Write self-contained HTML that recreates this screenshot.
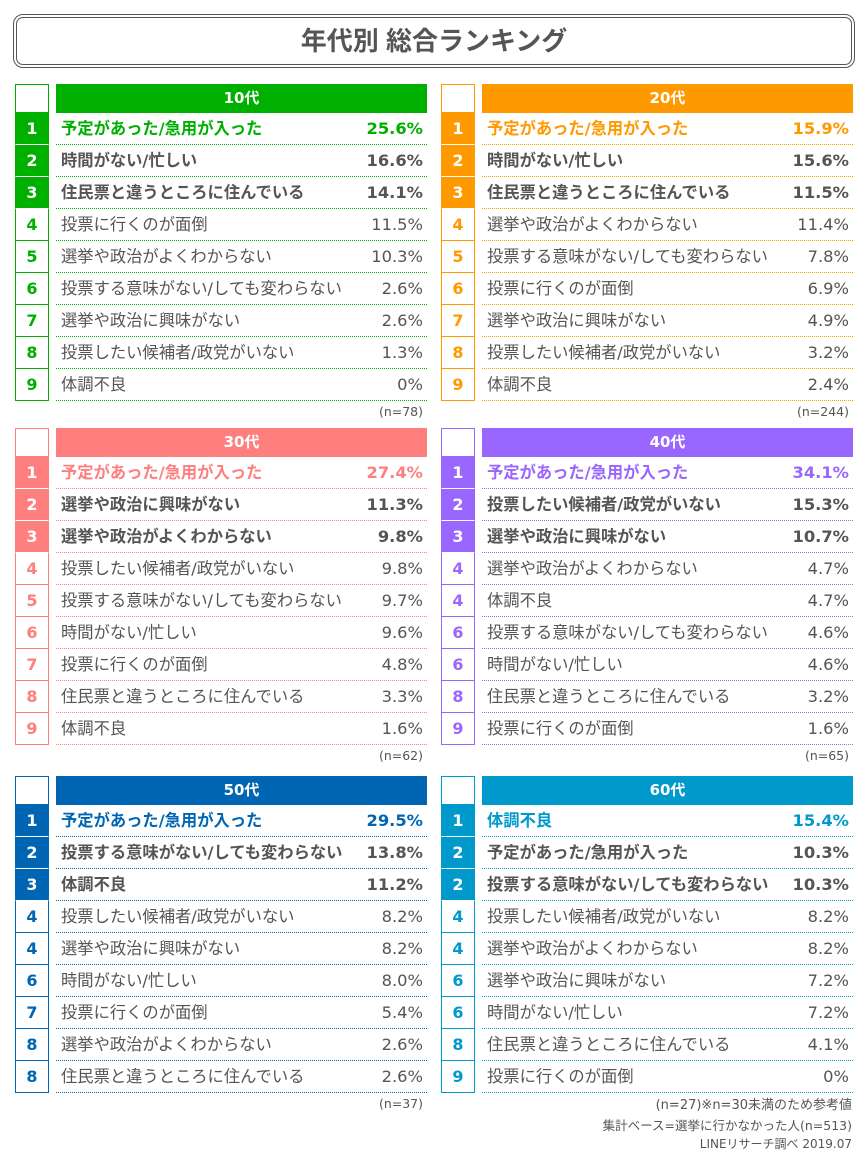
<!DOCTYPE html>
<html><head><meta charset="utf-8"><style>
body{margin:0;width:868px;height:1155px;background:#fff;position:relative;font-family:"DejaVu Sans","Noto Sans CJK JP",sans-serif;color:#555;overflow:hidden}
.title{position:absolute;left:13px;top:14px;width:834px;height:46px;border:4px double #555;border-radius:10px;text-align:center;line-height:46px;font-size:26px;font-weight:bold;color:#555;font-family:"Liberation Sans","Noto Sans CJK JP",sans-serif}
.p{position:absolute;width:412px}
.r{display:flex;height:32px}
.h{height:29px}
.n{width:34px;box-sizing:border-box;border:1px solid var(--c);border-top:none;text-align:center;font-weight:bold;font-size:16px;line-height:31px;color:var(--c);background:#fff}
.h .n{border-top:1px solid var(--c)}
.f .n{background:var(--c);color:#fff;border-bottom:1px solid #fff}
.t{flex:1;margin-left:7px;box-sizing:border-box;border-bottom:1px dotted var(--c);display:flex;justify-content:space-between;padding:0 4px 0 5px;font-size:16.3px;line-height:31px;white-space:nowrap}
.f .t{font-weight:bold}
.f1 .t{color:var(--c)}
.hb{flex:1;margin-left:7px;background:var(--c);color:#fff;font-weight:bold;text-align:center;font-size:15px;line-height:29px}
.nn{text-align:right;font-size:12.5px;padding-right:4px;height:22px;line-height:22px}
.ft{position:absolute;right:16px;font-size:12.5px;text-align:right;color:#555}
</style></head><body>
<div class="title">年代別 総合ランキング</div>

<div class="p" style="left:15px;top:84px;--c:#00b000">
<div class="r h"><div class="n"></div><div class="hb">10代</div></div>
<div class="r f f1"><div class="n">1</div><div class="t"><span>予定があった/急用が入った</span><span>25.6%</span></div></div>
<div class="r f"><div class="n">2</div><div class="t"><span>時間がない/忙しい</span><span>16.6%</span></div></div>
<div class="r f"><div class="n">3</div><div class="t"><span>住民票と違うところに住んでいる</span><span>14.1%</span></div></div>
<div class="r"><div class="n">4</div><div class="t"><span>投票に行くのが面倒</span><span>11.5%</span></div></div>
<div class="r"><div class="n">5</div><div class="t"><span>選挙や政治がよくわからない</span><span>10.3%</span></div></div>
<div class="r"><div class="n">6</div><div class="t"><span>投票する意味がない/しても変わらない</span><span>2.6%</span></div></div>
<div class="r"><div class="n">7</div><div class="t"><span>選挙や政治に興味がない</span><span>2.6%</span></div></div>
<div class="r"><div class="n">8</div><div class="t"><span>投票したい候補者/政党がいない</span><span>1.3%</span></div></div>
<div class="r"><div class="n">9</div><div class="t"><span>体調不良</span><span>0%</span></div></div>
<div class="nn">(n=78)</div>
</div>

<div class="p" style="left:441px;top:84px;--c:#ff9900">
<div class="r h"><div class="n"></div><div class="hb">20代</div></div>
<div class="r f f1"><div class="n">1</div><div class="t"><span>予定があった/急用が入った</span><span>15.9%</span></div></div>
<div class="r f"><div class="n">2</div><div class="t"><span>時間がない/忙しい</span><span>15.6%</span></div></div>
<div class="r f"><div class="n">3</div><div class="t"><span>住民票と違うところに住んでいる</span><span>11.5%</span></div></div>
<div class="r"><div class="n">4</div><div class="t"><span>選挙や政治がよくわからない</span><span>11.4%</span></div></div>
<div class="r"><div class="n">5</div><div class="t"><span>投票する意味がない/しても変わらない</span><span>7.8%</span></div></div>
<div class="r"><div class="n">6</div><div class="t"><span>投票に行くのが面倒</span><span>6.9%</span></div></div>
<div class="r"><div class="n">7</div><div class="t"><span>選挙や政治に興味がない</span><span>4.9%</span></div></div>
<div class="r"><div class="n">8</div><div class="t"><span>投票したい候補者/政党がいない</span><span>3.2%</span></div></div>
<div class="r"><div class="n">9</div><div class="t"><span>体調不良</span><span>2.4%</span></div></div>
<div class="nn">(n=244)</div>
</div>

<div class="p" style="left:15px;top:428px;--c:#ff7f7f">
<div class="r h"><div class="n"></div><div class="hb">30代</div></div>
<div class="r f f1"><div class="n">1</div><div class="t"><span>予定があった/急用が入った</span><span>27.4%</span></div></div>
<div class="r f"><div class="n">2</div><div class="t"><span>選挙や政治に興味がない</span><span>11.3%</span></div></div>
<div class="r f"><div class="n">3</div><div class="t"><span>選挙や政治がよくわからない</span><span>9.8%</span></div></div>
<div class="r"><div class="n">4</div><div class="t"><span>投票したい候補者/政党がいない</span><span>9.8%</span></div></div>
<div class="r"><div class="n">5</div><div class="t"><span>投票する意味がない/しても変わらない</span><span>9.7%</span></div></div>
<div class="r"><div class="n">6</div><div class="t"><span>時間がない/忙しい</span><span>9.6%</span></div></div>
<div class="r"><div class="n">7</div><div class="t"><span>投票に行くのが面倒</span><span>4.8%</span></div></div>
<div class="r"><div class="n">8</div><div class="t"><span>住民票と違うところに住んでいる</span><span>3.3%</span></div></div>
<div class="r"><div class="n">9</div><div class="t"><span>体調不良</span><span>1.6%</span></div></div>
<div class="nn">(n=62)</div>
</div>

<div class="p" style="left:441px;top:428px;--c:#9966ff">
<div class="r h"><div class="n"></div><div class="hb">40代</div></div>
<div class="r f f1"><div class="n">1</div><div class="t"><span>予定があった/急用が入った</span><span>34.1%</span></div></div>
<div class="r f"><div class="n">2</div><div class="t"><span>投票したい候補者/政党がいない</span><span>15.3%</span></div></div>
<div class="r f"><div class="n">3</div><div class="t"><span>選挙や政治に興味がない</span><span>10.7%</span></div></div>
<div class="r"><div class="n">4</div><div class="t"><span>選挙や政治がよくわからない</span><span>4.7%</span></div></div>
<div class="r"><div class="n">4</div><div class="t"><span>体調不良</span><span>4.7%</span></div></div>
<div class="r"><div class="n">6</div><div class="t"><span>投票する意味がない/しても変わらない</span><span>4.6%</span></div></div>
<div class="r"><div class="n">6</div><div class="t"><span>時間がない/忙しい</span><span>4.6%</span></div></div>
<div class="r"><div class="n">8</div><div class="t"><span>住民票と違うところに住んでいる</span><span>3.2%</span></div></div>
<div class="r"><div class="n">9</div><div class="t"><span>投票に行くのが面倒</span><span>1.6%</span></div></div>
<div class="nn">(n=65)</div>
</div>

<div class="p" style="left:15px;top:776px;--c:#0066b3">
<div class="r h"><div class="n"></div><div class="hb">50代</div></div>
<div class="r f f1"><div class="n">1</div><div class="t"><span>予定があった/急用が入った</span><span>29.5%</span></div></div>
<div class="r f"><div class="n">2</div><div class="t"><span>投票する意味がない/しても変わらない</span><span>13.8%</span></div></div>
<div class="r f"><div class="n">3</div><div class="t"><span>体調不良</span><span>11.2%</span></div></div>
<div class="r"><div class="n">4</div><div class="t"><span>投票したい候補者/政党がいない</span><span>8.2%</span></div></div>
<div class="r"><div class="n">4</div><div class="t"><span>選挙や政治に興味がない</span><span>8.2%</span></div></div>
<div class="r"><div class="n">6</div><div class="t"><span>時間がない/忙しい</span><span>8.0%</span></div></div>
<div class="r"><div class="n">7</div><div class="t"><span>投票に行くのが面倒</span><span>5.4%</span></div></div>
<div class="r"><div class="n">8</div><div class="t"><span>選挙や政治がよくわからない</span><span>2.6%</span></div></div>
<div class="r"><div class="n">8</div><div class="t"><span>住民票と違うところに住んでいる</span><span>2.6%</span></div></div>
<div class="nn">(n=37)</div>
</div>

<div class="p" style="left:441px;top:776px;--c:#0099cc">
<div class="r h"><div class="n"></div><div class="hb">60代</div></div>
<div class="r f f1"><div class="n">1</div><div class="t"><span>体調不良</span><span>15.4%</span></div></div>
<div class="r f"><div class="n">2</div><div class="t"><span>予定があった/急用が入った</span><span>10.3%</span></div></div>
<div class="r f"><div class="n">2</div><div class="t"><span>投票する意味がない/しても変わらない</span><span>10.3%</span></div></div>
<div class="r"><div class="n">4</div><div class="t"><span>投票したい候補者/政党がいない</span><span>8.2%</span></div></div>
<div class="r"><div class="n">4</div><div class="t"><span>選挙や政治がよくわからない</span><span>8.2%</span></div></div>
<div class="r"><div class="n">6</div><div class="t"><span>選挙や政治に興味がない</span><span>7.2%</span></div></div>
<div class="r"><div class="n">6</div><div class="t"><span>時間がない/忙しい</span><span>7.2%</span></div></div>
<div class="r"><div class="n">8</div><div class="t"><span>住民票と違うところに住んでいる</span><span>4.1%</span></div></div>
<div class="r"><div class="n">9</div><div class="t"><span>投票に行くのが面倒</span><span>0%</span></div></div>
</div>

<div class="ft" style="top:1094px;font-size:13px">(n=27)※n=30未満のため参考値</div>
<div class="ft" style="top:1115px">集計ベース=選挙に行かなかった人(n=513)</div>
<div class="ft" style="top:1135px;font-size:12px">LINEリサーチ調べ 2019.07</div>
</body></html>
